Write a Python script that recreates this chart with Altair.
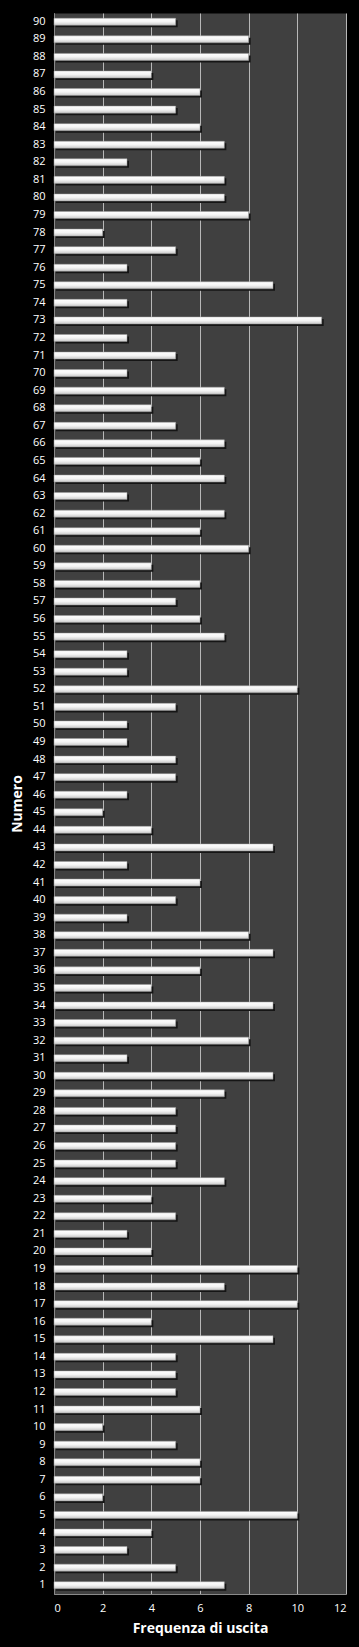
import altair as alt
import pandas as pd

numeri = list(range(1, 91))
frequenze = [7, 5, 3, 4, 10, 2, 6, 6, 5, 2,
             6, 5, 5, 5, 9, 4, 10, 7, 10, 4,
             3, 5, 4, 7, 5, 5, 5, 5, 7, 9,
             3, 8, 5, 9, 4, 6, 9, 8, 3, 5,
             6, 3, 9, 4, 2, 3, 5, 5, 3, 3,
             5, 10, 3, 3, 7, 6, 5, 6, 4, 8,
             6, 7, 3, 7, 6, 7, 5, 4, 7, 3,
             5, 3, 11, 3, 9, 3, 5, 2, 8, 7,
             7, 3, 7, 6, 5, 6, 4, 8, 8, 5]
x_ticks = [0, 2, 4, 6, 8, 10, 12]

df = pd.DataFrame({"Numero": numeri, "Frequenza": frequenze})

FONT = "Open Sans"

y_enc = alt.Y("Numero:O", sort="descending",
              scale=alt.Scale(paddingInner=0.6, paddingOuter=0.3),
              axis=alt.Axis(title="Numero", labelColor="white", labelFontSize=11,
                            labelFont=FONT, titleFont=FONT, titleColor="white",
                            titleFontSize=14, titleFontWeight="bold",
                            titlePadding=8, ticks=False, labelPadding=9,
                            domainColor="#8a8a8a", grid=False))
x_enc = alt.X("Frequenza:Q",
              scale=alt.Scale(domain=[0, 12], nice=False),
              axis=alt.Axis(title="Frequenza di uscita", values=x_ticks,
                            labelColor="white", labelFontSize=11, labelFont=FONT,
                            titleFont=FONT, titleColor="white", titleFontSize=14,
                            titleFontWeight="bold", titlePadding=8,
                            ticks=False, labelPadding=8,
                            domainColor="#8a8a8a",
                            grid=True, gridColor="#b8b8b8", gridWidth=1,
                            gridOpacity=1))

shadow = alt.Chart(df).mark_bar(color="#151515", xOffset=2, yOffset=2,
                                cornerRadius=0).encode(y=y_enc, x=x_enc)

bars = alt.Chart(df).mark_bar(
    stroke="#9a9a9a", strokeWidth=0.5,
    color=alt.Gradient(
        gradient="linear", x1=0, x2=0, y1=0, y2=1,
        stops=[alt.GradientStop(color="#ffffff", offset=0),
               alt.GradientStop(color="#f4f4f4", offset=0.5),
               alt.GradientStop(color="#c8c8c8", offset=1)])
).encode(y=y_enc, x=x_enc)

chart = alt.layer(shadow, bars).properties(
    width=292, height=1581,
    background="black",
    padding={"left": 54, "top": 13, "right": 13, "bottom": 53},
    autosize=alt.AutoSizeParams(type="none"),
).configure_view(fill="#404040", stroke="transparent")

chart.save("out.html", embed_options={"renderer": "svg", "actions": False})
